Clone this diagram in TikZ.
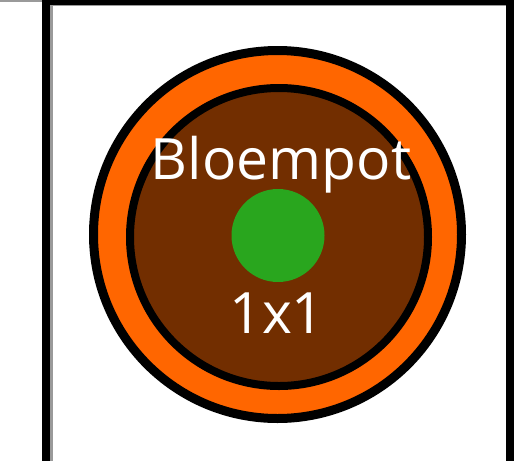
\documentclass[tikz,border=0pt]{standalone}
\usepackage{fontspec}
\usepackage{xcolor}
\usepackage{tikz}
\newfontfamily\potfont{Open Sans}
\definecolor{potorange}{HTML}{FF6600}
\definecolor{soil}{HTML}{722E00}
\definecolor{plant}{HTML}{29A61E}
\definecolor{edge}{HTML}{9A9A9A}

\begin{document}
\begin{tikzpicture}[
    x=1pt,y=-1pt,
    wall/.style={fill=black,draw=none},
    shade/.style={fill=edge,draw=none},
    rim/.style={draw=black,line width=9pt,fill=potorange},
    earth/.style={draw=black,line width=8pt,fill=soil},
    label/.style={text=white,font=\potfont\fontsize{57}{57}\selectfont,anchor=base,inner sep=0pt}
  ]
    \useasboundingbox (0,0) rectangle (514,461);

    % frame of the cell
    \fill[shade] (0,0) rectangle (42,2);
    \fill[shade] (50,5) rectangle (52.5,461);
    \fill[shade] (52,5) rectangle (506,6.2);
    \fill[wall] (42,0) rectangle (50,461);
    \fill[wall] (50,0) rectangle (514,5);
    \fill[wall] (506,0) rectangle (514,461);

    % pot
    \coordinate (pot) at (277.5,234.5);
    \coordinate (soilc) at (279,237);
    \draw[rim] (pot) circle (184);
    \draw[earth] (soilc) circle (149);
    \fill[plant] (278,235.5) circle (46.5);

    \node[label] (name) at (281,179) {Bloempot};
    \node[label] (size) at (277,333) {1x1};
\end{tikzpicture}
\end{document}
